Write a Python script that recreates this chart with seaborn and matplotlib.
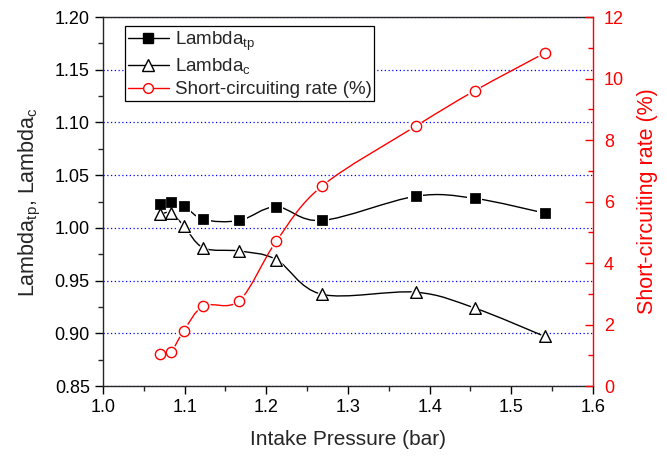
import numpy as np
import pandas as pd
import matplotlib
matplotlib.use('Agg')
import matplotlib.pyplot as plt
import seaborn as sns
from matplotlib.path import Path
from matplotlib.patches import PathPatch
from matplotlib.lines import Line2D
from matplotlib.ticker import MultipleLocator, FormatStrFormatter

sns.set_style('ticks')
plt.rcParams['font.family'] = ['Liberation Sans', 'DejaVu Sans']
plt.rcParams['mathtext.fontset'] = 'custom'
plt.rcParams['mathtext.rm'] = 'Liberation Sans'

# data
pressure = [1.070, 1.083, 1.099, 1.123, 1.167, 1.212, 1.268, 1.383, 1.455, 1.541]
lambda_tp = [1.023, 1.025, 1.021, 1.008, 1.007, 1.020, 1.007, 1.030, 1.028, 1.014]
lambda_c = [1.013, 1.014, 1.002, 0.981, 0.978, 0.970, 0.937, 0.939, 0.924, 0.897]
short_circ = [1.03, 1.10, 1.80, 2.60, 2.78, 4.70, 6.50, 8.45, 9.60, 10.83]

df = pd.DataFrame({'p': pressure, 'tp': lambda_tp, 'c': lambda_c, 'sc': short_circ})


def spline_patch(ax, xs, ys, color):
    # smooth line through the points (Catmull-Rom as cubic bezier segments)
    pts = np.column_stack([xs, ys])
    ext = np.vstack([pts[0], pts, pts[-1]])
    verts = [pts[0]]
    codes = [Path.MOVETO]
    for i in range(len(pts) - 1):
        p0, p1, p2, p3 = ext[i], ext[i + 1], ext[i + 2], ext[i + 3]
        verts += [p1 + (p2 - p0) / 6, p2 - (p3 - p1) / 6, p2]
        codes += [Path.CURVE4] * 3
    ax.add_patch(PathPatch(Path(verts, codes), fill=False, edgecolor=color, lw=1.0, zorder=2))


fig = plt.figure(figsize=(6.67, 4.58), dpi=100)
ax = fig.add_axes([0.1544, 0.1572, 0.7346, 0.8056])
ax2 = ax.twinx()

# left axis: lambda values
spline_patch(ax, df['p'], df['tp'], 'black')
spline_patch(ax, df['p'], df['c'], 'black')
sns.scatterplot(data=df, x='p', y='tp', ax=ax, marker='s', s=110, color='white', edgecolor='none', zorder=3)
sns.scatterplot(data=df, x='p', y='c', ax=ax, marker='^', s=150, color='white', edgecolor='none', zorder=3)
sns.scatterplot(data=df, x='p', y='tp', ax=ax, marker='s', s=45, color='black', edgecolor='black', zorder=4)
sns.scatterplot(data=df, x='p', y='c', ax=ax, marker='^', s=70, facecolor='white', edgecolor='black', linewidth=1.0, zorder=4)

# right axis: short-circuiting rate
spline_patch(ax2, df['p'], df['sc'], 'red')
sns.scatterplot(data=df, x='p', y='sc', ax=ax2, marker='o', s=110, color='white', edgecolor='none', zorder=3)
sns.scatterplot(data=df, x='p', y='sc', ax=ax2, marker='o', s=55, facecolor='white', edgecolor='red', linewidth=1.0, zorder=4)

ax.set_xlim(1.0, 1.6)
ax.set_ylim(0.85, 1.20)
ax2.set_ylim(0, 12)
ax.xaxis.set_major_locator(MultipleLocator(0.1))
ax.xaxis.set_minor_locator(MultipleLocator(0.05))
ax.yaxis.set_major_locator(MultipleLocator(0.05))
ax.yaxis.set_minor_locator(MultipleLocator(0.025))
ax2.yaxis.set_major_locator(MultipleLocator(2))
ax2.yaxis.set_minor_locator(MultipleLocator(1))
ax.xaxis.set_major_formatter(FormatStrFormatter('%.1f'))
ax.yaxis.set_major_formatter(FormatStrFormatter('%.2f'))

ax.yaxis.grid(True, which='major', color='blue', linestyle=(0, (1, 2)), lw=0.9)
ax.set_axisbelow(True)

ax.tick_params(which='major', direction='out', length=6, width=1, labelsize=13, colors='black')
ax.tick_params(which='minor', direction='out', length=3.5, width=1)
ax2.tick_params(which='major', direction='in', length=6, width=1, labelsize=13, colors='red', pad=8)
ax2.tick_params(which='minor', direction='in', length=3.5, width=1, colors='red')

for sp in ax.spines.values():
    sp.set_linewidth(1.0)
for sp in ['top', 'left', 'bottom']:
    ax2.spines[sp].set_visible(False)
ax2.spines['right'].set_color('red')
ax2.spines['right'].set_linewidth(1.0)
ax.spines['right'].set_visible(False)

ax.set_xlabel('Intake Pressure (bar)', fontsize=15, labelpad=10)
ax.set_ylabel(r'Lambda$_{\rm tp}$, Lambda$_{\rm c}$', fontsize=15.5, labelpad=8)
ax2.set_ylabel('Short-circuiting rate (%)', fontsize=15.5, color='red', labelpad=9)

handles = [
    Line2D([], [], color='black', lw=1.0, marker='s', markersize=6.5, markerfacecolor='black'),
    Line2D([], [], color='black', lw=1.0, marker='^', markersize=8, markerfacecolor='white'),
    Line2D([], [], color='red', lw=1.0, marker='o', markersize=7, markerfacecolor='white', markeredgecolor='red'),
]
labels = [r'Lambda$_{\rm tp}$', r'Lambda$_{\rm c}$', 'Short-circuiting rate (%)']
leg = ax2.legend(handles, labels, loc='upper left', bbox_to_anchor=(0.045, 0.975), fontsize=13.5,
                 frameon=True, fancybox=False, edgecolor='black', framealpha=1,
                 borderpad=0.15, handlelength=2.2, handletextpad=0.3, labelspacing=0.22,
                 borderaxespad=0)
leg.get_frame().set_linewidth(0.9)

fig.savefig('out.png', dpi=100)
